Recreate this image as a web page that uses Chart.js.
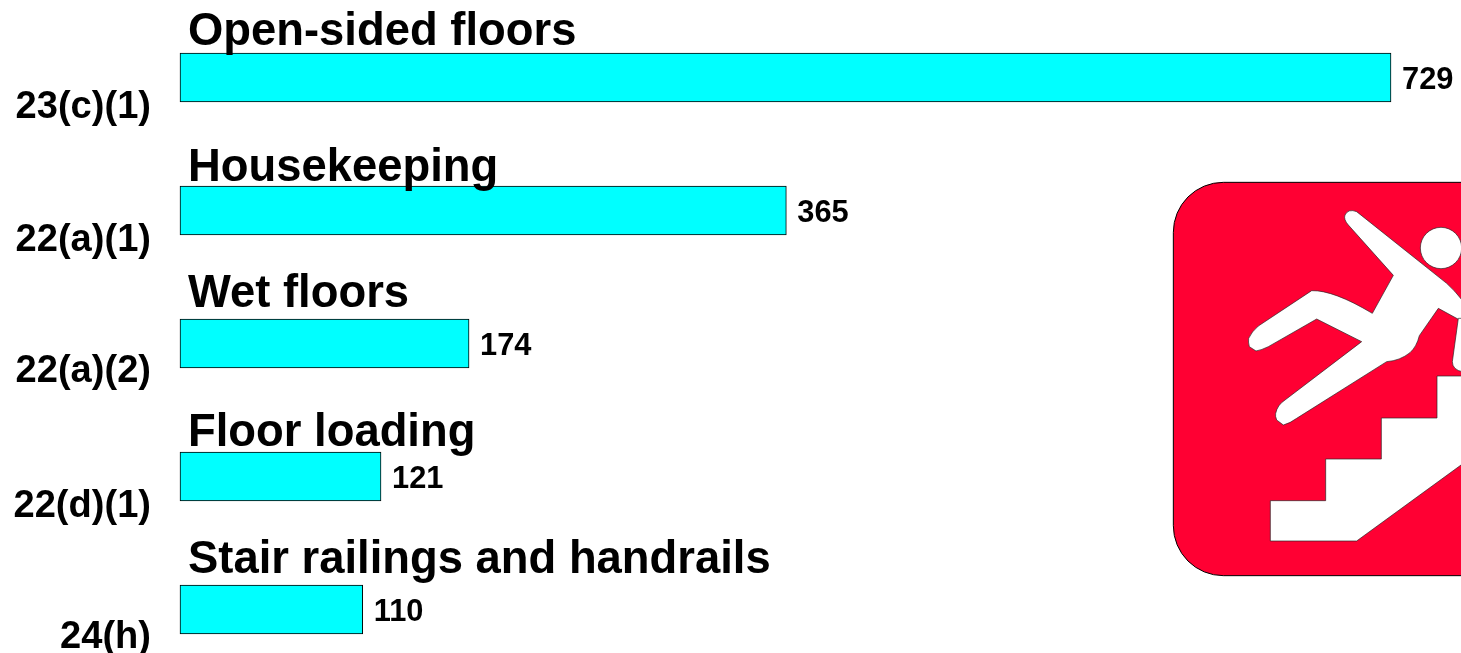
<!DOCTYPE html>
<html>
<head>
<meta charset="utf-8">
<title>Top floor and stair citations</title>
<style>
    html, body { margin: 0; padding: 0; background: #fff; overflow: hidden; }
    #wrap { position: relative; width: 1461px; height: 653px; overflow: hidden; }
    #chart { display: block; }
    #icon { position: absolute; left: 1160px; top: 170px; }
</style>
<script src="https://cdn.jsdelivr.net/npm/chart.js@4"></script>
</head>
<body>
<div id="wrap">
    <canvas id="chart" width="1461" height="653"></canvas>
    <!-- slip and fall sign, runs off the right edge like in the original slide -->
    <svg id="icon" width="301" height="420" viewBox="0 0 903 1260">
        <rect x="40" y="37" width="1100" height="1180" rx="150" fill="#ff0033" stroke="#000" stroke-width="3"/>
        <g fill="#fff" stroke="#222" stroke-width="2">
            <circle cx="843" cy="234" r="62"/>
            <path d="M555 135 Q565 115 590 125 L860 340 Q885 362 910 395 L910 456 L835 415 L778 497 Q770 530 750 548 Q720 572 680 575 L410 745 Q390 760 370 765 L350 750 Q345 738 347 730 Q352 705 375 690 L605 515 L470 447 L325 530 Q305 540 288 543 L268 530 Q264 515 266 505 Q275 485 295 468 L455 362 Q520 360 637 430 L700 316 L565 165 Q550 148 555 135 Z"/>
            <path d="M895 445 L877 575 Q877 600 910 606 L910 445 Z"/>
            <path d="M331 1113 L331 992 L497 992 L497 867 L664 867 L664 744 L831 744 L831 618 L910 618 L910 880 L590 1113 Z"/>
        </g>
    </svg>
</div>
<script>
const codes = ['23(c)(1)', '22(a)(1)', '22(a)(2)', '22(d)(1)', '24(h)'];
const titles = ['Open-sided floors', 'Housekeeping', 'Wet floors', 'Floor loading', 'Stair railings and handrails'];
const citations = [729, 365, 174, 121, 110];

// the slide placed its text boxes by hand, so the offsets differ per row
const titleOffsets = [-33, -30, -37, -31, -37];
const codeOffsets = [40, 40, 38, 40, 38];

const FONT = '"Liberation Sans", Arial, Helvetica, sans-serif';

const barTextPlugin = {
    id: 'barText',
    afterDatasetsDraw(chart) {
        const { ctx, scales: { x, y } } = chart;
        ctx.save();
        ctx.fillStyle = '#000';
        citations.forEach((value, i) => {
            const center = y.getPixelForValue(i);

            ctx.textBaseline = 'alphabetic';
            ctx.textAlign = 'left';
            ctx.font = 'bold 45.4px ' + FONT;
            ctx.fillText(titles[i], 188, center + titleOffsets[i]);

            ctx.textAlign = 'right';
            ctx.font = 'bold 38.1px ' + FONT;
            ctx.fillText(codes[i], 151, center + codeOffsets[i]);

            ctx.textAlign = 'left';
            ctx.textBaseline = 'middle';
            ctx.font = 'bold 30.8px ' + FONT;
            ctx.fillText(String(value), x.getPixelForValue(value) + 11, center + 3);
        });
        ctx.restore();
    },
};

new Chart(document.getElementById('chart'), {
    type: 'bar',
    data: {
        labels: codes,
        datasets: [{
            data: citations,
            backgroundColor: '#00ffff',
            borderColor: '#000',
            borderWidth: 1,
            borderSkipped: false,
            barThickness: 49,
            clip: false,
        }],
    },
    options: {
        indexAxis: 'y',
        responsive: false,
        animation: false,
        layout: {
            padding: { left: 180, right: 70, top: 77.5, bottom: 43.5 },
        },
        plugins: {
            legend: { display: false },
            tooltip: { enabled: false },
        },
        scales: {
            x: { display: false, min: 0, max: 729 },
            y: { display: false, offset: false },
        },
    },
    plugins: [barTextPlugin],
});
</script>
</body>
</html>
